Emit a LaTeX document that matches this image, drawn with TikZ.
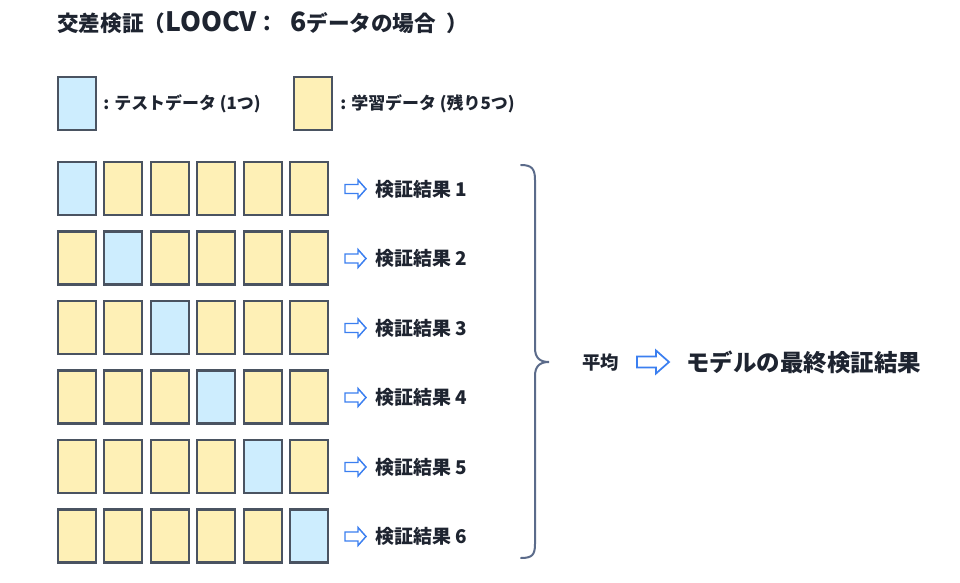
\documentclass[tikz,border=0pt]{standalone}
\usepackage{fontspec}
\setmainfont{Noto Sans CJK JP}
\begin{document}
\begin{tikzpicture}[x=0.75pt,y=-0.75pt,
  txt/.style={inner sep=0pt,anchor=west,text=textc,font=\bfseries},
  databox/.style={draw=boxline,line width=1.6pt,minimum width=28.5pt,minimum height=39.75pt,inner sep=0pt},
  testbox/.style={databox,fill=testfill},
  trainbox/.style={databox,fill=trainfill},
  hollowarrow/.style={draw=arrowc,fill=white,line width=1.1pt,line join=miter},
  bracec/.style={draw=bracecol,line width=1.5pt,line cap=round}
]
\definecolor{textc}{HTML}{1E2430}
\definecolor{boxline}{HTML}{4A5361}
\definecolor{testfill}{HTML}{CDEDFE}
\definecolor{trainfill}{HTML}{FEF0B6}
\definecolor{arrowc}{HTML}{3B7FF0}
\definecolor{bracecol}{HTML}{5B6B8A}
\useasboundingbox (0,0) rectangle (960,582);
% title
\node[txt,font=\bfseries\fontsize{16.2pt}{18pt}\selectfont] (title) at (57,23)
  {交差検証（{\fontsize{20pt}{20pt}\selectfont LOOCV}：\hspace{9pt}{\fontsize{20pt}{20pt}\selectfont 6}データの場合\hspace{8pt}）};
% legend
\node[testbox] (legtest) at (77,103.5) {};
\node[txt,font=\bfseries\fontsize{12.7pt}{14pt}\selectfont] (legtesttxt) at (103,103.5) {: テストデータ (1つ)};
\node[trainbox] (legtrain) at (313,103.5) {};
\node[txt,font=\bfseries\fontsize{12.7pt}{14pt}\selectfont] (legtraintxt) at (340,103.5) {: 学習データ (残り5つ)};
% rows
\foreach \r in {1,...,6}{
  \foreach \c in {1,...,6}{
    \pgfmathsetmacro{\xx}{77+46.4*(\c-1)}
    \pgfmathsetmacro{\yy}{188.5+69.5*(\r-1)}
    \ifnum\r=\c
      \node[testbox] (b\r\c) at (\xx,\yy) {};
    \else
      \node[trainbox] (b\r\c) at (\xx,\yy) {};
    \fi
  }
  \pgfmathsetmacro{\yy}{189+69.5*(\r-1)}
  \draw[hollowarrow,shift={(345,\yy)}] (0,-4.5) -- (13,-4.5) -- (13,-9) -- (21,0) -- (13,9) -- (13,4.5) -- (0,4.5) -- cycle;
  \node[txt,font=\bfseries\fontsize{14.2pt}{16pt}\selectfont] (res\r) at (375,\yy) {検証結果 \r};
}
% brace
\draw[bracec] (521,165) .. controls (532,165) and (535,169) .. (535,180) -- (535,348)
  .. controls (535,358) and (540,362) .. (549,362)
  .. controls (540,362) and (535,366) .. (535,376) -- (535,544)
  .. controls (535,555) and (532,558) .. (521,558);
% average
\node[txt,font=\bfseries\fontsize{13.8pt}{16pt}\selectfont] (avg) at (582,362.5) {平均};
\draw[hollowarrow,line width=1.3pt,shift={(637,362)}] (0,-5.5) -- (19,-5.5) -- (19,-11.5) -- (32,0) -- (19,11.5) -- (19,5.5) -- (0,5.5) -- cycle;
\node[txt,font=\bfseries\fontsize{17.6pt}{20pt}\selectfont] (final) at (686,362.5) {モデルの最終検証結果};
\end{tikzpicture}
\end{document}
